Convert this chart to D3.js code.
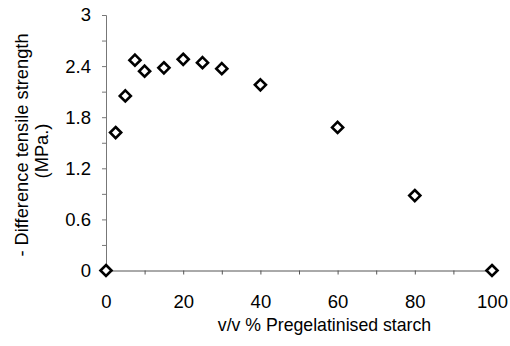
<!DOCTYPE html>
<html>
<head>
<meta charset="utf-8">
<script src="https://cdn.jsdelivr.net/npm/d3@7"></script>
<style>
	body { margin: 0; background: #fff; }
	svg text { font-family: "Liberation Sans", Arial, sans-serif; fill: #000; }
</style>
</head>
<body>
<svg id="chart" width="510" height="346"></svg>
<script>
// starch content (v/v %) and measured strength difference (MPa)
const starchPct = [0, 2.5, 5, 7.5, 10, 15, 20, 25, 30, 40, 60, 80, 100];
const strengthDiff = [0, 1.62, 2.05, 2.47, 2.34, 2.38, 2.48, 2.44, 2.37, 2.18, 1.68, 0.88, 0];

const xTicks = [0, 20, 40, 60, 80, 100];
const xMinorTicks = [10, 30, 50, 70, 90];
const yTicks = [0, 0.6, 1.2, 1.8, 2.4, 3];
const yMinorTicks = [0.3, 0.9, 1.5, 2.1, 2.7];

const margin = { top: 15, left: 106, right: 18, bottom: 75.5 };
const width = 510 - margin.left - margin.right,
	height = 346 - margin.top - margin.bottom;

const fontStack = '"Liberation Sans", Arial, sans-serif';

const svg = d3.select('#chart');
const g = svg.append('g')
	.attr('transform', 'translate(' + margin.left + ',' + margin.top + ')');

const x = d3.scaleLinear().domain([0, 100]).range([0, width]);
const y = d3.scaleLinear().domain([0, 3]).range([height, 0]);

// y axis
g.append('g')
	.call(d3.axisLeft(y).tickValues(yTicks).tickSize(4).tickFormat(d => d3.format('.1f')(d).replace(/\.0$/, '')))
	.call(ax => {
		ax.select('.domain').attr('stroke', '#777');
		ax.selectAll('.tick line').attr('stroke', '#777');
		ax.selectAll('text').attr('x', -15).attr('font-size', 18.5).style('font-family', fontStack);
	});
g.append('g')
	.call(d3.axisLeft(y).tickValues(yMinorTicks).tickSize(4).tickFormat(''))
	.call(ax => {
		ax.select('.domain').remove();
		ax.selectAll('.tick line').attr('stroke', '#777');
	});

// x axis
g.append('g')
	.attr('transform', 'translate(0,' + height + ')')
	.call(d3.axisBottom(x).tickValues(xTicks).tickSize(4))
	.call(ax => {
		ax.select('.domain').attr('stroke', '#555');
		ax.selectAll('.tick line').attr('stroke', '#555');
		ax.selectAll('text').attr('y', 24).attr('font-size', 18.5).style('font-family', fontStack);
	});
g.append('g')
	.attr('transform', 'translate(0,' + height + ')')
	.call(d3.axisBottom(x).tickValues(xMinorTicks).tickSize(4).tickFormat(''))
	.call(ax => {
		ax.select('.domain').remove();
		ax.selectAll('.tick line').attr('stroke', '#555');
	});

// axis titles
svg.append('text')
	.attr('x', 324.5)
	.attr('y', 331)
	.attr('text-anchor', 'middle')
	.attr('font-size', 17.7)
	.text('v/v % Pregelatinised starch');

const yTitle = svg.append('text')
	.attr('transform', 'translate(28,145) rotate(-90)')
	.attr('text-anchor', 'middle')
	.attr('font-size', 18.3);
yTitle.append('tspan').attr('x', 0).attr('dy', 0).text('- Difference tensile strength');
yTitle.append('tspan').attr('x', -6).attr('dy', 20).text('(MPa.)');

// diamond markers
const diamond = d3.symbol().type(d3.symbolDiamond2).size(78);
g.selectAll('.pt')
	.data(starchPct.map((v, i) => ({ x: v, y: strengthDiff[i] })))
	.enter()
	.append('path')
	.attr('class', 'pt')
	.attr('d', diamond)
	.attr('transform', d => 'translate(' + x(d.x) + ',' + y(d.y) + ')')
	.attr('fill', '#fff')
	.attr('stroke', '#000')
	.attr('stroke-width', 2.6);
</script>
</body>
</html>
